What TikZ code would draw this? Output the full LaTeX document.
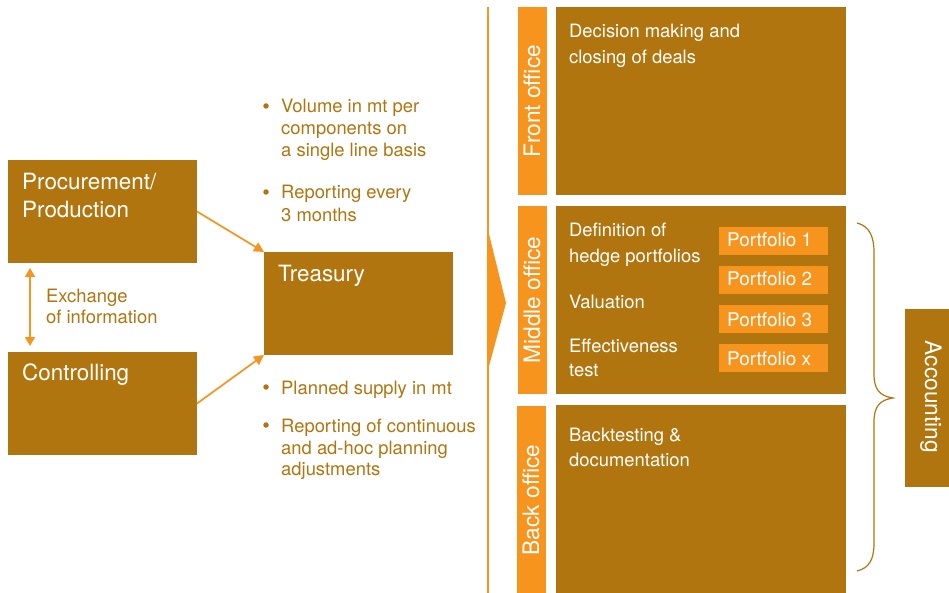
\documentclass[tikz,border=0pt]{standalone}
\usepackage{fontspec}
\setmainfont{TeX Gyre Heros}
\usetikzlibrary{arrows.meta}
\definecolor{gold}{HTML}{B1750F}
\definecolor{orng}{HTML}{F7941D}
\begin{document}
\begin{tikzpicture}[x=1pt,y=-1pt,
 box/.style={fill=gold, draw=none, inner sep=0pt, outer sep=0pt, anchor=north west},
 obar/.style={fill=orng, draw=none, inner sep=0pt, outer sep=0pt, anchor=north west},
 title/.style={text=white, font=\fontsize{22.4}{26}\selectfont, anchor=base west, inner sep=0pt},
 wtxt/.style={text=white, font=\fontsize{18.4}{21}\selectfont, anchor=base west, inner sep=0pt},
 ptxt/.style={text=white, font=\fontsize{18.9}{21}\selectfont, anchor=base west, inner sep=0pt},
 gtxt/.style={text=gold, font=\fontsize{18.4}{21}\selectfont, anchor=base west, inner sep=0pt},
 vlab/.style={text=white, font=\fontsize{22.7}{26}\selectfont, inner sep=0pt},
 dot/.style={circle, fill=gold, minimum size=5.5pt, inner sep=0pt},
 conn/.style={draw=orng, line width=1.7pt, -{Triangle[length=10pt,width=10pt]}},
 dconn/.style={draw=orng, line width=1.7pt, {Triangle[length=9pt,width=10pt]}-{Triangle[length=9pt,width=10pt]}},
]
\useasboundingbox (0,0) rectangle (949,593);
% left boxes
\node[box, minimum width=189pt, minimum height=103pt] (proc) at (8,160) {};
\node[box, minimum width=189pt, minimum height=103pt] (ctrl) at (8,352) {};
\node[box, minimum width=189pt, minimum height=103pt] (treas) at (264,252) {};
\node[title] (tproc1) at (22,190) {Procurement/};
\node[title] (tproc2) at (22,218) {Production};
\node[title] (tctrl) at (22,380) {Controlling};
\node[title] (ttreas) at (278,282) {Treasury};
% connectors
\draw[conn] (proc.east) -- (treas.north west);
\draw[conn] (ctrl.east) -- (treas.south west);
\draw[dconn] ([xshift=22pt,yshift=-5pt]proc.south west) -- ([xshift=22pt,yshift=6pt]ctrl.north west);
\node[gtxt] (ex1) at (46,302) {Exchange};
\node[gtxt] (ex2) at (46,323) {of information};
% bullets
\node[dot] (d1) at (266,106) {};
\node[dot] (d2) at (266,192) {};
\node[dot] (d3) at (266,387) {};
\node[dot] (d4) at (266,425) {};
\node[gtxt] (b11) at (281,113) {Volume in mt per};
\node[gtxt] (b12) at (281,135) {components on};
\node[gtxt] (b13) at (281,156.5) {a single line basis};
\node[gtxt] (b21) at (281,199) {Reporting every};
\node[gtxt] (b22) at (281,222) {3 months};
\node[gtxt] (b31) at (281,394) {Planned supply in mt};
\node[gtxt] (b41) at (281,432) {Reporting of continuous};
\node[gtxt] (b42) at (281,454) {and ad-hoc planning};
\node[gtxt] (b43) at (281,475) {adjustments};
% divider with wedge
\draw[orng, line width=1.6pt] (488,7) -- (488,593);
\fill[orng] (488,230) -- (506,303) -- (488,370) -- cycle;
% office bars
\node[obar, minimum width=29pt, minimum height=188pt] (fbar) at (518,7) {};
\node[obar, minimum width=29pt, minimum height=188pt] (mbar) at (518,206) {};
\node[obar, minimum width=29pt, minimum height=187pt] (bbar) at (517,406) {};
\node[vlab, rotate=90] (lfront) at (532,101) {Front office};
\node[vlab, rotate=90] (lmid) at (532,300) {Middle office};
\node[vlab, rotate=90] (lback) at (531,500) {Back office};
% office boxes
\node[box, minimum width=290pt, minimum height=188pt] (fbox) at (556,7) {};
\node[box, minimum width=290pt, minimum height=188pt] (mbox) at (556,206) {};
\node[box, minimum width=290pt, minimum height=188pt] (bbox) at (556,405) {};
\node[wtxt] (f1) at (569,38) {Decision making and};
\node[wtxt] (f2) at (569,64) {closing of deals};
\node[wtxt] (m1) at (569,237) {Definition of};
\node[wtxt] (m2) at (569,262) {hedge portfolios};
\node[wtxt] (m3) at (569,308) {Valuation};
\node[wtxt] (m4) at (569,352) {Effectiveness};
\node[wtxt] (m5) at (569,376) {test};
\node[wtxt] (k1) at (569,441) {Backtesting \&};
\node[wtxt] (k2) at (569,466) {documentation};
% portfolios
\node[obar, minimum width=109pt, minimum height=28pt] (p1) at (719,227) {};
\node[obar, minimum width=109pt, minimum height=28pt] (p2) at (719,266) {};
\node[obar, minimum width=109pt, minimum height=28pt] (p3) at (719,305) {};
\node[obar, minimum width=109pt, minimum height=28pt] (p4) at (719,344) {};
\node[ptxt] (tp1) at (727,247) {Portfolio 1};
\node[ptxt] (tp2) at (727,286) {Portfolio 2};
\node[ptxt] (tp3) at (727,326) {Portfolio 3};
\node[ptxt] (tp4) at (727,365) {Portfolio x};
% brace
\draw[gold, line width=1.2pt] (857,223) .. controls (869,226) and (874,236) .. (874,252) -- (874,374) .. controls (874,390) and (880,396) .. (893,398) .. controls (880,400) and (874,406) .. (874,422) -- (874,543) .. controls (874,560) and (869,568) .. (857,571);
% accounting
\node[box, minimum width=50pt, minimum height=178pt] (acc) at (905,309) {};
\node[vlab, rotate=-90] (tacc) at (931,397) {Accounting};
\end{tikzpicture}
\end{document}
